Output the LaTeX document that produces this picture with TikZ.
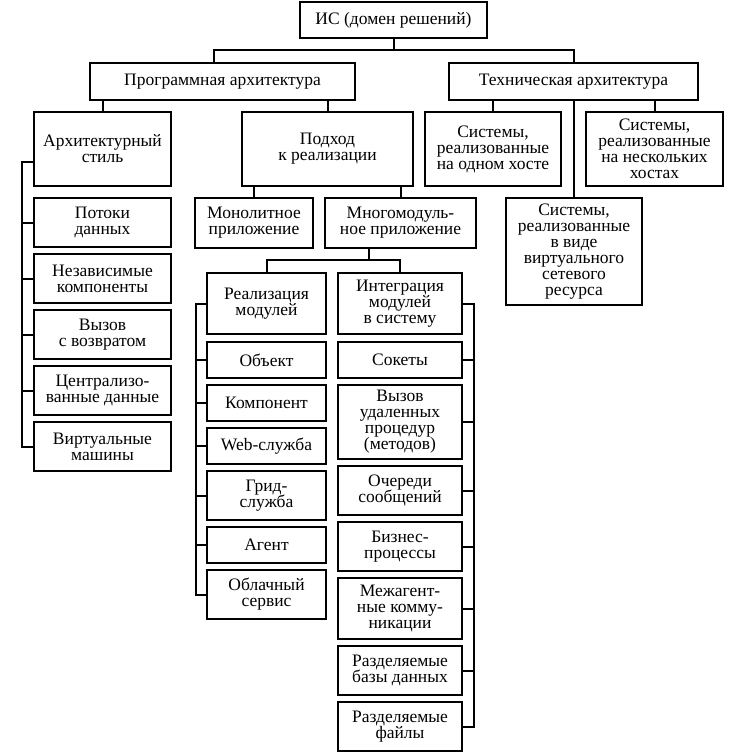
\documentclass[tikz,border=0pt]{standalone}
\usepackage{fontspec}
\setmainfont{Liberation Serif}
\usetikzlibrary{positioning}
\lineskiplimit=-\maxdimen

\begin{document}
\begin{tikzpicture}[x=1pt,y=1pt,node distance=7pt,line width=2pt,
    blk/.style={draw,align=center,inner xsep=3pt,inner ysep=2pt,outer sep=0pt,
                font=\fontsize{17.5}{16}\selectfont},
    stylecol/.style={blk,minimum width=137pt,minimum height=49pt},
    modl/.style={blk,minimum width=119pt},
    modr/.style={blk,minimum width=124pt}]
    \useasboundingbox (0,0) rectangle (739,-754);
    % top levels
    \node[blk,minimum width=187pt,minimum height=36pt] (is) at (393.5,-20) {ИС (домен решений)};
    \node[blk,minimum width=265pt,minimum height=37pt] (prog) at (222.5,-81.5) {Программная архитектура};
    \node[blk,minimum width=249pt,minimum height=37pt] (tech) at (573.5,-81.5) {Техническая архитектура};
    \node[blk,minimum width=137pt,minimum height=74pt] (arch) at (102.5,-149) {Архитектурный\\стиль};
    \node[blk,minimum width=171pt,minimum height=74pt] (podhod) at (327.5,-149) {Подход\\к реализации};
    \node[blk,minimum width=136pt,minimum height=74pt] (host1) at (493,-149) {Системы,\\реализованные\\на одном хосте};
    \node[blk,minimum width=137pt,minimum height=74pt] (host2) at (654.5,-149) {Системы,\\реализованные\\на нескольких\\хостах};
    \node[blk,minimum width=136pt,minimum height=107pt] (virt) at (574,-251.5) {Системы,\\реализованные\\в виде\\виртуального\\сетевого\\ресурса};
    \node[blk,minimum width=118pt,minimum height=50pt] (mono) at (254,-223) {Монолитное\\приложение};
    \node[blk,minimum width=151pt,minimum height=50pt] (multi) at (400.5,-223) {Многомодуль-\\ное приложение};
    % architectural styles
    \node[stylecol,below=12pt of arch] (potoki) {Потоки\\данных};
    \node[stylecol,below=of potoki] (nezav) {Независимые\\компоненты};
    \node[stylecol,below=of nezav] (vyzov) {Вызов\\с возвратом};
    \node[stylecol,below=of vyzov] (central) {Централизо-\\ванные данные};
    \node[stylecol,below=of central] (vm) {Виртуальные\\машины};
    % module realisation
    \node[modl,minimum height=61pt] (real) at (266.5,-303.5) {Реализация\\модулей};
    \node[modl,minimum height=36pt,below=8pt of real] (obj) {Объект};
    \node[modl,minimum height=36pt,below=of obj] (komp) {Компонент};
    \node[modl,minimum height=36pt,below=of komp] (web) {Web-служба};
    \node[modl,minimum height=49pt,below=of web] (grid) {Грид-\\служба};
    \node[modl,minimum height=36pt,below=of grid] (agent) {Агент};
    \node[modl,minimum height=49pt,below=of agent] (cloud) {Облачный\\сервис};
    % module integration
    \node[modr,minimum height=61pt] (integ) at (400,-303.5) {Интеграция\\модулей\\в систему};
    \node[modr,minimum height=36pt,below=8pt of integ] (sok) {Сокеты};
    \node[modr,minimum height=74pt,below=of sok] (rpc) {Вызов\\удаленных\\процедур\\(методов)};
    \node[modr,minimum height=49pt,below=of rpc] (queue) {Очереди\\сообщений};
    \node[modr,minimum height=49pt,below=of queue] (biz) {Бизнес-\\процессы};
    \node[modr,minimum height=61pt,below=of biz] (mezh) {Межагент-\\ные комму-\\никации};
    \node[modr,minimum height=49pt,below=of mezh] (bases) {Разделяемые\\базы данных};
    \node[modr,minimum height=49pt,below=of bases] (files) {Разделяемые\\файлы};
    % connectors
    \draw ([xshift=-8.5pt]prog.north) |- ([yshift=-12pt]is.south) -| (tech.north);
    \draw (is.south) -- ++(0,-12);
    \draw (arch.north) -- (arch.north |- prog.south);
    \draw (podhod.north) -- (podhod.north |- prog.south);
    \draw (host1.north) -- (host1.north |- tech.south);
    \draw (host2.north) -- (host2.north |- tech.south);
    \draw (virt.north) -- (virt.north |- tech.south);
    \draw (mono.north) -- (mono.north |- podhod.south);
    \draw (multi.north) -- (multi.north |- podhod.south);
    \draw ([xshift=-31.5pt]multi.south) -- ++(0,-12) coordinate (mb);
    \draw (real.north) |- (mb) -| (integ.north);
    \draw ([yshift=-13pt]arch.west) -- ++(-12,0) |- (vm.west);
    \foreach \n in {potoki,nezav,vyzov,central}
      \draw (\n.west) -- ++(-12,0);
    \draw (real.west) -- ++(-11,0) |- (cloud.west);
    \foreach \n in {obj,komp,web,grid,agent}
      \draw (\n.west) -- ++(-11,0);
    \draw (integ.east) -- ++(12,0) |- (files.east);
    \foreach \n in {sok,rpc,queue,biz,mezh,bases}
      \draw (\n.east) -- ++(12,0);
\end{tikzpicture}
\end{document}
